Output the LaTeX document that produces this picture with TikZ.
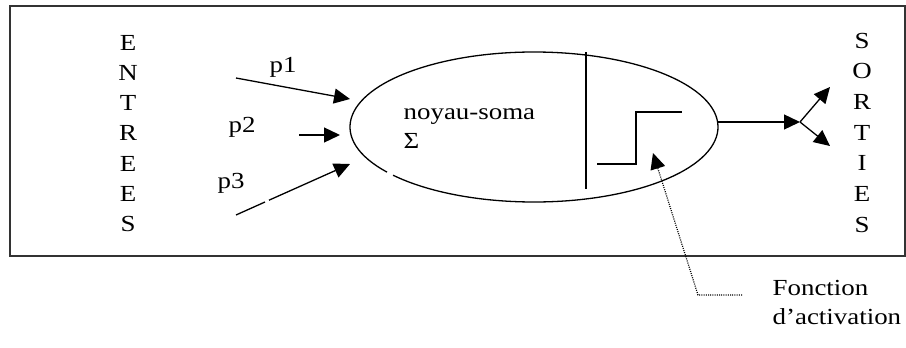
\documentclass[tikz,border=0pt]{standalone}
\usepackage{fontspec}
\setmainfont{Liberation Serif}[FakeStretch=1.17]
\usetikzlibrary{arrows.meta,shapes.geometric}
\begin{document}
\begin{tikzpicture}[x=0.5pt,y=-0.5pt,
  line width=0.65pt,
  txt/.style={inner sep=0pt, font=\fontsize{11.5pt}{14pt}\selectfont},
  arr/.style={-{Triangle[length=8pt,width=7.5pt]}},
  frame/.style={draw=black!80, line width=1pt},
  dots/.style={dash pattern=on 0.5pt off 0.6pt, line width=0.6pt}]
\useasboundingbox (0,0) rectangle (906,348);
\draw[frame] (10,6) rectangle (905,256);
% columns of letters
\foreach \l [count=\i from 0] in {E,N,T,R,E,E,S}
  \node[txt, anchor=base] (e\i) at (128,{50+30.33*\i}) {\l};
\foreach \l [count=\i from 0] in {S,O,R,T,I,E,S}
  \node[txt, anchor=base] (s\i) at (862,{48+30.67*\i}) {\l};
% input labels
\node[txt, anchor=base west] (p1) at (269,72) {p1};
\node[txt, anchor=base west] (p2) at (228,132) {p2};
\node[txt, anchor=base west] (p3) at (217,188) {p3};
% soma
\node[ellipse, minimum width=184pt, minimum height=75pt, inner sep=0pt] (soma) at (534,127) {};
\draw ([shift={(220:92pt and 37.5pt)}]soma.center) arc[start angle=220, end angle=577, x radius=92pt, y radius=37.5pt];
\node[txt, anchor=base west, align=left] (noyau) at (403,148) {noyau-soma\\Σ};
% activation part
\draw (586,52) -- (586,189);
\draw (597,164) -- (636,164) -- (636,112) -- (682,112);
% input arrows
\coordinate (i1) at (236,78);  \coordinate (t1) at (350,99);
\coordinate (i2) at (299,135); \coordinate (t2) at (340,135);
\coordinate (i3) at (236,215); \coordinate (g3a) at (265,202);
\coordinate (g3b) at (269,200.2); \coordinate (t3) at (350,164);
\draw[arr] (i1) -- (t1);
\draw[arr] (i2) -- (t2);
\draw (i3) -- (g3a);
\draw[arr] (g3b) -- (t3);
% outputs
\coordinate (out) at (717.6,122);
\coordinate (split) at (800,122);
\coordinate (o1) at (830,87);
\coordinate (o2) at (830,146);
\draw[arr] (out) -- (split);
\draw[arr] (split) -- (o1);
\draw[arr] (split) -- (o2);
% activation function label
\node[txt, font=\fontsize{11.5pt}{14.5pt}\selectfont, anchor=base west, align=left] (fonction) at (772,324) {Fonction\\d’activation};
\coordinate (d0) at (742,295);
\coordinate (d1) at (698,295);
\coordinate (dt) at (653,153);
\draw[dots, arr] (d0) -- (d1) -- (dt);
\end{tikzpicture}
\end{document}
